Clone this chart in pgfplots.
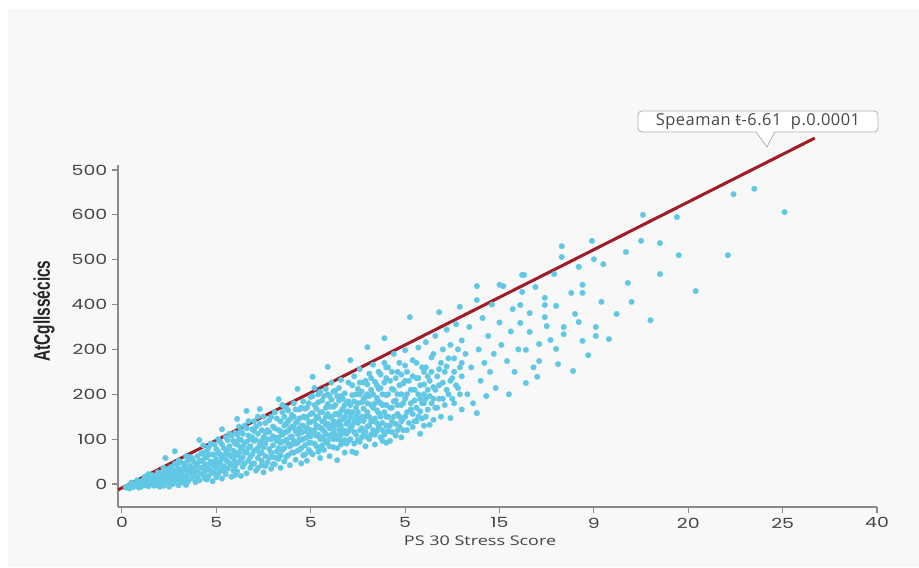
\documentclass[border=0pt]{standalone}
\usepackage{fontspec}
\setmainfont{Open Sans}
\newfontfamily\tickfont{Poppins}[FakeStretch=1.35]
\newfontfamily\ylabfont{Liberation Sans}[FakeStretch=0.68]
\newfontfamily\xlabfont{Open Sans}[FakeStretch=1.35]
\newfontfamily\notefont{Open Sans}[LetterSpace=3]
\usepackage{pgfplots}
\pgfplotsset{compat=1.18}
\definecolor{bgpanel}{HTML}{F8F8F8}
\definecolor{dotc}{RGB}{96,200,228}
\definecolor{regred}{RGB}{158,30,38}
\definecolor{axgray}{HTML}{8A8A8A}
\definecolor{txtgray}{HTML}{444444}
\begin{document}
\begin{tikzpicture}
\path[use as bounding box] (0,0) rectangle (689.25pt,425.25pt);
\fill[white] (0,0) rectangle (689.25pt,425.25pt);
\fill[bgpanel] (6pt,0) rectangle (689.25pt,418.5pt);
\begin{axis}[
  at={(88.5pt,45pt)}, anchor=south west,
  scale only axis, width=569.25pt, height=256.5pt,
  xmin=-0.21, xmax=40, ymin=-51.3, ymax=711.1,
  axis lines*=left,
  axis line style={axgray, line width=0.8pt, -},
  tick align=outside, major tick length=4.5pt,
  tick style={axgray, line width=0.8pt},
  xtick={0,5,...,40}, xticklabels={0,5,5,5,15,9,20,25,40},
  ytick={0,100,...,700}, yticklabels={0,100,200,200,400,500,600,500},
  ticklabel style={font=\tickfont\fontsize{10.5}{12}\selectfont, text=txtgray},
  xlabel={PS 30 Stress Score},
  xlabel style={at={(axis description cs:0.477,0)}, anchor=center, yshift=-25.5pt, font=\xlabfont\fontsize{10}{12}\selectfont, text=txtgray},
  ylabel={AtCgllssécics},
  ylabel style={at={(axis description cs:0,0.573)}, anchor=center, yshift=55.5pt, font=\ylabfont\bfseries\fontsize{17}{19}\selectfont, text=black!85},
  clip=false,
]
\addplot[only marks, mark=*, color=dotc, mark size=2.15pt, mark options={draw=dotc, fill=dotc, line width=0.1pt}] coordinates {
(0.2,-8) (0.3,-5) (0.4,-10) (0.5,-2) (0.6,-7) (0.7,0) (0.8,-4) (0.9,5) (1.0,-6) (1.0,3) (1.1,8) (1.2,-3) (1.3,2) (1.3,12) (1.4,-5) (1.5,6) (1.5,15) (1.6,0) (1.7,10) (1.7,-4) (1.8,18) (1.8,4) (1.9,-2) (1.9,12) (2.0,24) (2.0,7) (2.0,-6)
(2.1,2) (2.1,15) (2.2,28) (2.2,-4) (2.3,10) (2.3,20) (2.4,5) (2.4,33) (2.5,-2) (2.5,14) (2.5,25) (2.6,8) (2.6,38) (2.7,18) (2.7,0) (2.8,28) (2.8,12) (2.9,42) (2.9,5) (2.9,22) (3.0,34) (3.0,15) (3.0,-3) (3.1,26) (3.1,48) (3.2,9) (3.2,20) (3.3,38) (3.3,2) (3.4,30) (3.4,14) (3.5,52) (3.5,22) (3.5,6) (3.6,40) (3.6,28) (3.7,12) (3.7,58) (3.8,35) (3.8,20) (3.9,4) (3.9,45) (4.0,27) (4.0,62) (4.0,14) (2.3,58) (2.8,73)
(4.1,98) (4.1,8) (4.2,36) (4.2,52) (4.3,20) (4.3,70) (4.4,44) (4.4,28) (4.5,10) (4.5,60) (4.5,36) (4.6,82) (4.6,18) (4.7,50) (4.7,30) (4.8,66) (4.8,6) (4.8,42) (4.9,24) (4.9,88) (5.0,55) (5.0,36) (5.0,15) (5.1,72) (5.1,46) (5.2,28) (5.2,94) (5.3,122) (5.3,60) (5.3,12) (5.4,40) (5.4,80) (5.5,22) (5.5,54) (5.5,68) (5.6,98) (5.6,34) (5.7,46) (5.7,84) (5.8,16) (5.8,62) (5.8,108) (5.9,30) (5.9,74) (6.0,50) (6.0,90) (6.0,40) (6.0,20) (4.4,58) (4.9,64) (5.2,50) (5.6,76) (5.9,58)
(6.1,145) (6.1,64) (6.1,28) (6.2,100) (6.2,48) (6.3,80) (6.3,118) (6.3,18) (6.4,60) (6.4,38) (6.5,92) (6.5,130) (6.6,163) (6.6,70) (6.6,24) (6.7,108) (6.7,52) (6.8,84) (6.8,36) (6.9,122) (6.9,66) (7.0,96) (7.0,46) (7.0,140) (7.1,76) (7.1,30) (7.2,112) (7.2,58) (7.3,88) (7.3,134) (7.3,167) (7.4,42) (7.4,70) (7.5,104) (7.5,150) (7.5,26) (7.6,62) (7.6,90) (7.7,120) (7.7,48) (7.8,78) (7.8,142) (7.9,100) (7.9,34) (8.0,60) (8.0,128) (8.0,86) (6.4,84) (6.8,100) (7.2,80) (7.6,114) (7.9,70) (6.2,70) (7.0,118) (7.4,96)
(8.1,104) (8.1,44) (8.2,146) (8.2,72) (8.3,189) (8.3,120) (8.3,56) (8.4,92) (8.4,36) (8.5,160) (8.5,110) (8.5,76) (8.6,130) (8.6,50) (8.7,98) (8.7,170) (8.8,64) (8.8,140) (8.8,118) (8.9,84) (8.9,42) (9.0,154) (9.0,106) (9.0,70) (9.1,126) (9.1,180) (9.2,90) (9.2,54) (9.3,212) (9.3,140) (9.3,112) (9.4,76) (9.4,166) (9.5,98) (9.5,130) (9.5,46) (9.6,184) (9.6,150) (9.6,64) (9.7,118) (9.7,86) (9.8,170) (9.8,104) (9.8,52) (9.9,138) (9.9,76) (10.0,194) (10.0,120) (10.0,92) (10.0,156) (8.2,96) (8.6,80) (8.9,124) (9.2,118) (9.4,100) (9.7,148) (9.9,110) (8.4,118) (8.7,134) (9.1,96)
(10.1,239) (10.1,66) (10.2,140) (10.2,176) (10.3,108) (10.3,84) (10.4,200) (10.4,128) (10.5,58) (10.5,160) (10.5,100) (10.6,186) (10.6,140) (10.7,76) (10.7,118) (10.8,212) (10.8,170) (10.8,92) (10.9,261) (10.9,134) (11.0,62) (11.0,150) (11.0,196) (11.1,110) (11.1,226) (11.2,82) (11.2,172) (11.3,130) (11.3,208) (11.4,53) (11.4,100) (11.4,156) (11.5,186) (11.5,120) (11.6,232) (11.6,88) (11.7,144) (11.7,168) (11.8,70) (11.8,202) (11.9,112) (11.9,134) (12.0,184) (12.0,226) (12.0,96) (10.3,150) (10.6,104) (10.9,178) (11.2,140) (11.5,154) (11.8,118) (10.4,72) (11.0,124) (11.6,196) (11.9,160)
(12.1,276) (12.1,150) (12.2,72) (12.2,198) (12.3,116) (12.3,240) (12.4,69) (12.4,170) (12.5,136) (12.5,212) (12.6,94) (12.6,256) (12.7,182) (12.7,150) (12.8,110) (12.8,226) (12.9,84) (12.9,194) (13.0,305) (13.0,160) (13.0,128) (13.1,246) (13.1,100) (13.2,210) (13.2,176) (13.3,140) (13.3,266) (13.4,88) (13.4,228) (13.5,192) (13.5,118) (13.6,158) (13.6,250) (13.7,104) (13.7,214) (13.8,176) (13.8,136) (13.9,325) (13.9,270) (14.0,92) (14.0,198) (14.0,150) (14.0,236) (12.2,130) (12.6,200) (13.0,222) (13.4,146) (13.8,96) (12.8,168) (13.6,184)
(14.1,118) (14.1,260) (14.2,170) (14.2,96) (14.3,212) (14.3,140) (14.4,290) (14.4,184) (14.5,108) (14.5,236) (14.6,156) (14.6,200) (14.7,128) (14.7,270) (14.8,176) (14.8,104) (14.9,224) (14.9,146) (15.0,298) (15.0,190) (15.1,120) (15.1,250) (15.25,372) (15.3,166) (15.3,210) (15.4,127) (15.4,276) (15.5,186) (15.6,140) (15.6,236) (15.7,304) (15.7,200) (15.8,112) (15.8,162) (15.9,260) (16.0,222) (16.0,130) (16.0,180)
(16.1,316) (16.1,150) (16.2,240) (16.3,196) (16.3,132) (16.4,282) (16.5,143) (16.5,216) (16.6,170) (16.6,330) (16.8,383) (16.8,256) (16.8,190) (16.9,150) (17.0,300) (17.0,226) (17.1,176) (17.2,344) (17.2,262) (17.3,200) (17.4,147) (17.4,310) (17.5,236) (17.6,280) (17.6,180) (17.7,356) (17.8,214) (17.9,395) (17.9,260) (18.0,166) (18.0,320) (18.0,240)
(18.2,290) (18.3,200) (18.4,350) (18.5,260) (18.6,180) (18.8,441) (18.8,410) (18.8,158) (18.9,300) (19.0,230) (19.1,370) (19.2,270) (19.3,196) (19.4,330) (19.5,250) (19.6,400) (19.7,290) (19.8,214) (20.0,360) (20.1,310) (20.2,441) (20.0,444) (20.4,274) (20.5,200) (20.6,340) (20.7,390) (20.8,250) (21.0,300) (21.1,399) (21.1,359) (21.2,428) (21.2,466) (21.3,466) (21.4,299) (21.4,225) (21.6,381) (21.6,339) (21.8,260) (21.9,439) (22.0,239)
(22.1,312) (22.1,274) (22.4,415) (22.4,399) (22.4,372) (22.5,352) (22.7,321) (22.9,468) (23.0,397) (23.0,301) (23.1,267) (23.3,530) (23.3,506) (23.4,350) (23.4,334) (23.8,426) (23.9,252) (24.0,379) (24.2,484) (24.2,361) (24.4,444) (24.4,426) (24.4,319) (24.7,287) (24.9,542) (25.0,501) (25.1,350) (25.1,330) (25.4,406) (25.5,490) (25.8,323) (26.2,379) (26.7,517) (26.8,448) (27.0,406) (27.5,542) (27.6,600) (28.0,365) (28.5,537) (28.5,468) (29.4,595) (29.5,510) (30.4,430) (32.1,510) (32.4,646) (33.5,658) (35.1,606)
(0.5,3) (0.8,8) (1.1,-2) (1.2,16) (1.4,9) (1.6,20) (1.9,26) (2.2,36) (2.4,18) (2.6,24) (2.8,45) (3.0,52) (3.1,4) (3.3,46) (3.5,36) (3.6,60) (3.8,50) (3.9,28) (2.1,8) (2.7,32) (3.2,32) (3.4,62) (3.7,24) (4.0,40) (3.4,-2) (2.5,-6) (1.4,22) (0.9,-8)
(4.1,50) (4.2,68) (4.3,86) (4.4,12) (4.6,44) (4.6,66) (4.7,90) (4.8,26) (4.9,48) (5.0,78) (5.1,100) (5.1,22) (5.2,66) (5.3,88) (5.4,58) (5.4,30) (5.5,104) (5.6,50) (5.7,64) (5.7,112) (5.8,42) (5.9,96) (6.0,70) (6.0,114) (4.5,74) (4.2,22) (5.3,38)
(6.1,88) (6.1,110) (6.2,128) (6.3,56) (6.3,98) (6.4,112) (6.5,46) (6.5,72) (6.6,94) (6.6,124) (6.7,80) (6.7,140) (6.8,60) (6.9,104) (6.9,44) (7.0,74) (7.1,98) (7.1,128) (7.2,150) (7.2,36) (7.3,68) (7.4,120) (7.4,52) (7.5,82) (7.6,136) (7.6,40) (7.7,100) (7.8,58) (7.8,116) (7.9,150) (8.0,106) (8.0,44)
(8.1,124) (8.1,160) (8.2,58) (8.3,104) (8.3,80) (8.4,140) (8.4,64) (8.5,94) (8.5,176) (8.6,114) (8.6,150) (8.7,60) (8.7,116) (8.8,90) (8.8,164) (8.9,104) (8.9,144) (9.0,88) (9.0,128) (9.1,70) (9.1,150) (9.2,136) (9.2,166) (9.3,92) (9.3,74) (9.4,124) (9.4,146) (9.5,80) (9.5,114) (9.5,170) (9.6,100) (9.6,130) (9.7,168) (9.7,66) (9.8,126) (9.8,150) (9.9,92) (9.9,180) (10.0,70) (10.0,138) (10.0,106)
(10.1,116) (10.1,158) (10.1,196) (10.2,90) (10.2,120) (10.2,214) (10.3,130) (10.3,168) (10.4,110) (10.4,148) (10.4,182) (10.5,80) (10.5,126) (10.5,206) (10.6,160) (10.6,122) (10.6,86) (10.7,100) (10.7,140) (10.7,196) (10.8,112) (10.8,150) (10.8,132) (10.9,96) (10.9,156) (10.9,200) (11.0,84) (11.0,106) (11.0,172) (11.1,130) (11.1,150) (11.1,188) (11.2,100) (11.2,120) (11.2,206) (11.3,110) (11.3,156) (11.3,176) (11.4,134) (11.4,196) (11.4,80) (11.5,100) (11.5,140) (11.5,214) (11.6,110) (11.6,130) (11.6,162) (11.7,96) (11.7,120) (11.7,190) (11.8,150) (11.8,176) (11.8,98) (11.9,182) (11.9,90) (12.0,140) (12.0,118) (12.0,162)
(12.1,100) (12.1,124) (12.1,176) (12.2,160) (12.2,220) (12.3,90) (12.3,140) (12.3,184) (12.4,110) (12.4,200) (12.4,150) (12.5,160) (12.5,98) (12.5,180) (12.6,120) (12.6,144) (12.6,226) (12.7,104) (12.7,124) (12.7,206) (12.8,140) (12.8,190) (12.9,116) (12.9,150) (12.9,230) (13.0,104) (13.0,180) (13.0,200) (13.1,130) (13.1,150) (13.1,196) (13.2,110) (13.2,140) (13.2,236) (13.3,120) (13.3,170) (13.3,200) (13.4,110) (13.4,180) (13.5,136) (13.5,164) (13.5,220) (13.6,128) (13.6,212) (13.7,150) (13.7,180) (13.7,244) (13.8,120) (13.8,200) (13.9,160) (13.9,110) (13.9,226) (14.0,130) (14.0,176) (14.0,260)
(14.1,150) (14.1,200) (14.2,130) (14.2,230) (14.3,116) (14.3,170) (14.3,250) (14.4,150) (14.4,210) (14.5,134) (14.5,186) (14.6,120) (14.6,176) (14.6,250) (14.7,150) (14.7,220) (14.8,140) (14.8,200) (14.8,244) (14.9,120) (14.9,180) (15.0,150) (15.0,230) (15.0,264) (15.1,160) (15.1,200) (15.2,136) (15.2,230) (15.3,180) (15.4,156) (15.4,240) (15.5,140) (15.5,210) (15.6,170) (15.6,270) (15.7,150) (15.7,236) (15.8,190) (15.8,220) (15.9,146) (15.9,180) (16.0,250) (16.0,200)
(16.1,190) (16.1,260) (16.2,166) (16.2,210) (16.3,230) (16.4,180) (16.4,250) (16.5,190) (16.5,290) (16.6,210) (16.7,240) (16.7,170) (16.8,220) (16.9,270) (17.0,190) (17.1,250) (17.2,210) (17.3,280) (17.4,230) (17.5,190) (17.6,250) (17.7,220) (17.8,300) (17.9,200) (18.0,270)
};
\addplot[regred, line width=2.3pt] coordinates {(-0.2,-13) (36.7,771)};
\end{axis}
\draw[gray!60, fill=white, rounded corners=3pt, line width=0.6pt] (478.5pt,326.25pt) rectangle (658.5pt,342pt);
\fill[white] (567pt,326.9pt) -- (575.25pt,315pt) -- (581pt,326.9pt) -- cycle;
\draw[gray!60, line width=0.6pt] (567pt,326.25pt) -- (575.25pt,315pt) -- (581pt,326.25pt);
\node[font=\notefont\fontsize{12.3}{14}\selectfont, text=black!72] at (568.5pt,334.2pt) {Speaman ŧ-6.61\ \ p.0.0001};
\end{tikzpicture}
\end{document}
